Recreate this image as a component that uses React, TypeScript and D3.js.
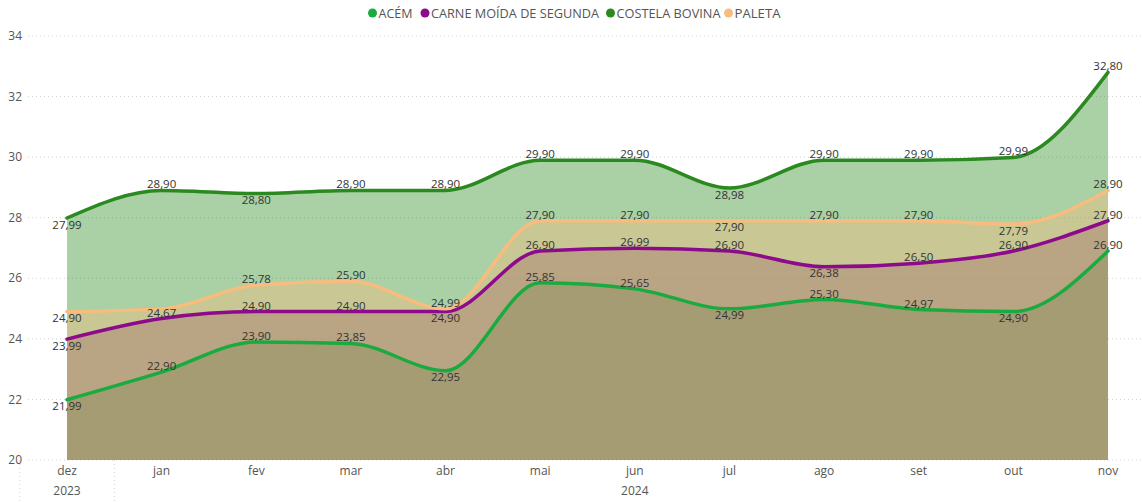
import React from 'react';
import * as d3 from 'd3';

const months = ['dez', 'jan', 'fev', 'mar', 'abr', 'mai', 'jun', 'jul', 'ago', 'set', 'out', 'nov'];
const yearLabels = ['2023', '2024'];
const yearStart = [0, 1];
const yearEnd = [0, 11];

const seriesNames = ['ACÉM', 'CARNE MOÍDA DE SEGUNDA', 'COSTELA BOVINA', 'PALETA'];
const seriesColors = ['#1AAB40', '#8E0A8C', '#2A8A1F', '#F8BC7E'];

const acem = [21.99, 22.9, 23.9, 23.85, 22.95, 25.85, 25.65, 24.99, 25.3, 24.97, 24.9, 26.9];
const carneMoida = [23.99, 24.67, 24.9, 24.9, 24.9, 26.9, 26.99, 26.9, 26.38, 26.5, 26.9, 27.9];
const costela = [27.99, 28.9, 28.8, 28.9, 28.9, 29.9, 29.9, 28.98, 29.9, 29.9, 29.99, 32.8];
const paleta = [24.9, 24.99, 25.78, 25.9, 24.99, 27.9, 27.9, 27.9, 27.9, 27.9, 27.79, 28.9];

// label placement: a = above, b = below, n = hidden
const acemLabels = ['b', 'a', 'a', 'a', 'b', 'a', 'a', 'b', 'a', 'a', 'b', 'a'];
const carneLabels = ['b', 'a', 'a', 'a', 'b', 'a', 'a', 'a', 'b', 'a', 'a', 'a'];
const costelaLabels = ['b', 'a', 'b', 'a', 'a', 'a', 'a', 'b', 'a', 'a', 'a', 'a'];
const paletaLabels = ['b', 'n', 'a', 'a', 'a', 'a', 'a', 'b', 'a', 'a', 'b', 'a'];

const yTicks = [20, 22, 24, 26, 28, 30, 32, 34];

const seriesValues = [acem, carneMoida, costela, paleta];
const seriesLabelPos = [acemLabels, carneLabels, costelaLabels, paletaLabels];

const W = 1142;
const H = 502;
const FONT = "'Segoe UI', 'Open Sans', 'DejaVu Sans', sans-serif";

const legendDotX = [372.5, 425, 610.5, 728.5];
const legendTextW = [34, 168, 104, 46];

export default function App() {
  const x = d3.scalePoint<string>().domain(months).range([67, 1108]);
  const step = x.step();
  const y = d3.scaleLinear().domain([20, 34]).range([460, 36]);

  const area = d3
    .area<number>()
    .x((_, i) => x(months[i]) as number)
    .y0(y(20))
    .y1((d) => y(d))
    .curve(d3.curveMonotoneX);
  const line = d3
    .line<number>()
    .x((_, i) => x(months[i]) as number)
    .y((d) => y(d))
    .curve(d3.curveMonotoneX);

  const fmt = (v: number) => v.toFixed(2).replace('.', ',');

  const yearSeps: number[] = [];
  yearStart.forEach((s) => yearSeps.push((x(months[s]) as number) - step / 2));

  return (
    <svg width={W} height={H} style={{ position: 'absolute', left: 0, top: 0, fontFamily: FONT }}>
      <rect width={W} height={H} fill="#fff" />
      {/* legend */}
      {seriesNames.map((n, i) => (
        <g key={n}>
          <circle cx={legendDotX[i]} cy={13} r={4.5} fill={seriesColors[i]} />
          <text
            x={legendDotX[i] + 6}
            y={13}
            dy="0.35em"
            fontSize={13}
            fill="#555"
            textLength={legendTextW[i]}
            lengthAdjust="spacingAndGlyphs"
          >
            {n}
          </text>
        </g>
      ))}
      {/* grid */}
      {yTicks.map((t) => (
        <g key={t}>
          <line x1={28} x2={W} y1={y(t)} y2={y(t)} stroke="#d0d0d0" strokeDasharray="1,3" />
          <text x={22} y={y(t)} dy="0.35em" textAnchor="end" fontSize={12} fill="#555">
            {t}
          </text>
        </g>
      ))}
      {/* x axis */}
      {months.map((m) => (
        <text key={m} x={x(m)} y={471} dy="0.35em" textAnchor="middle" fontSize={12} fill="#555">
          {m}
        </text>
      ))}
      {yearSeps.map((sx, i) => (
        <line key={i} x1={sx} x2={sx} y1={460} y2={502} stroke="#d0d0d0" strokeDasharray="1,3" />
      ))}
      {yearLabels.map((yl, i) => (
        <text
          key={yl}
          x={((x(months[yearStart[i]]) as number) + (x(months[yearEnd[i]]) as number)) / 2}
          y={491}
          dy="0.35em"
          textAnchor="middle"
          fontSize={12}
          fill="#555"
        >
          {yl}
        </text>
      ))}
      {/* areas */}
      {seriesValues.map((vals, i) => (
        <path key={'a' + i} d={area(vals) || ''} fill={seriesColors[i]} fillOpacity={0.4} />
      ))}
      {/* lines */}
      {seriesValues.map((vals, i) => (
        <path key={'l' + i} d={line(vals) || ''} fill="none" stroke={seriesColors[i]} strokeWidth={3.5} strokeLinecap="round" />
      ))}
      {/* labels */}
      {seriesValues.map((vals, i) =>
        vals.map((v, j) => {
          const pos = seriesLabelPos[i][j];
          if (pos === 'n') return null;
          const px = x(months[j]) as number;
          const py = y(v);
          return (
            <text
              key={'t' + i + '-' + j}
              x={px}
              y={pos === 'a' ? py - 6 : py + 6.5}
              dy="0.35em"
              textAnchor="middle"
              fontSize={11.5}
              fill="#333"
            >
              {fmt(v)}
            </text>
          );
        })
      )}
    </svg>
  );
}
